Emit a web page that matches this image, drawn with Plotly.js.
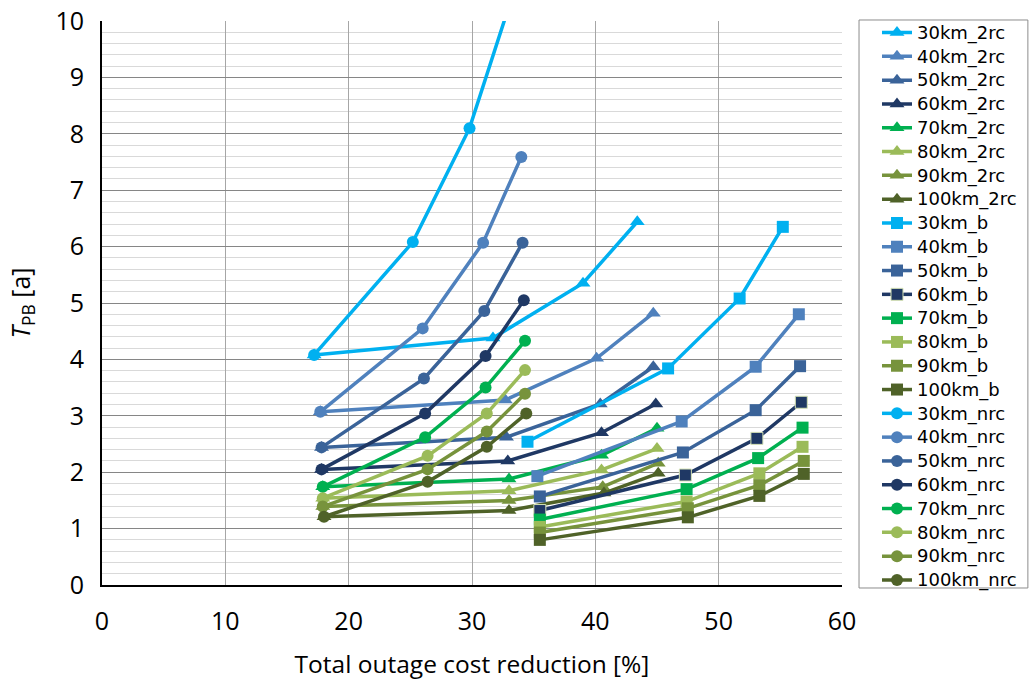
<!DOCTYPE html>
<html>
<head>
<meta charset="utf-8">
<script src="https://cdn.plot.ly/plotly-3.0.1.min.js"></script>
<style>html,body{margin:0;padding:0;background:#fff;}#chart{width:1031px;height:683px;}</style>
</head>
<body>
<div id="chart"></div>
<script>
// Distances and colours
const distances = ['30km','40km','50km','60km','70km','80km','90km','100km'];
const colors = ['#00B0F0','#4F81BD','#3A6399','#1F3864','#00B050','#9BBB59','#77933C','#4F6228'];

// 2rc series (triangles)
const x_2rc = [
  [17.2, 31.7, 39.0, 43.4],
  [17.7, 32.7, 40.1, 44.7],
  [17.8, 32.8, 40.4, 44.7],
  [17.8, 32.9, 40.5, 44.9],
  [17.9, 33.0, 40.5, 45.0],
  [17.9, 33.0, 40.5, 45.0],
  [17.9, 33.0, 40.6, 45.1],
  [18.0, 33.0, 40.7, 45.1]
];
const y_2rc = [
  [4.08, 4.38, 5.35, 6.44],
  [3.07, 3.28, 4.02, 4.82],
  [2.44, 2.62, 3.21, 3.87],
  [2.05, 2.20, 2.70, 3.21],
  [1.74, 1.88, 2.30, 2.78],
  [1.54, 1.67, 2.04, 2.42],
  [1.39, 1.50, 1.74, 2.16],
  [1.21, 1.32, 1.63, 1.98]
];

// b series (squares)
const x_b = [
  [34.5, 45.9, 51.7, 55.2],
  [35.3, 47.0, 53.0, 56.5],
  [35.5, 47.1, 53.0, 56.6],
  [35.5, 47.3, 53.1, 56.7],
  [35.5, 47.4, 53.2, 56.8],
  [35.5, 47.4, 53.3, 56.8],
  [35.5, 47.5, 53.3, 56.9],
  [35.5, 47.5, 53.3, 56.9]
];
const y_b = [
  [2.54, 3.84, 5.08, 6.35],
  [1.93, 2.90, 3.87, 4.80],
  [1.57, 2.35, 3.10, 3.88],
  [1.32, 1.95, 2.60, 3.24],
  [1.16, 1.70, 2.25, 2.79],
  [1.03, 1.48, 1.98, 2.45],
  [0.93, 1.36, 1.77, 2.20],
  [0.80, 1.20, 1.58, 1.97]
];

// nrc series (circles)
const x_nrc = [
  [17.2, 25.2, 29.8, 33.5],
  [17.7, 26.0, 30.9, 34.0],
  [17.8, 26.1, 31.0, 34.1],
  [17.8, 26.2, 31.1, 34.2],
  [17.9, 26.2, 31.1, 34.3],
  [17.9, 26.4, 31.2, 34.3],
  [17.9, 26.4, 31.2, 34.3],
  [18.0, 26.4, 31.2, 34.4]
];
const y_nrc = [
  [4.08, 6.08, 8.10, 10.6],
  [3.07, 4.55, 6.07, 7.59],
  [2.44, 3.66, 4.86, 6.07],
  [2.05, 3.04, 4.06, 5.05],
  [1.74, 2.62, 3.50, 4.33],
  [1.54, 2.29, 3.04, 3.81],
  [1.39, 2.05, 2.72, 3.39],
  [1.21, 1.83, 2.45, 3.04]
];

const xTicks = [0, 10, 20, 30, 40, 50, 60];
const yTicks = [0, 1, 2, 3, 4, 5, 6, 7, 8, 9, 10];

const traces = [];
const groups = [
  {suffix: '_2rc', xs: x_2rc, ys: y_2rc, symbol: 'triangle-up', size: 13},
  {suffix: '_b', xs: x_b, ys: y_b, symbol: 'square', size: 12},
  {suffix: '_nrc', xs: x_nrc, ys: y_nrc, symbol: 'circle', size: 12}
];
groups.forEach(g => {
  distances.forEach((d, i) => {
    const mk = {symbol: g.symbol, size: g.size, color: colors[i]};
    if (g.suffix === '_b' && d === '60km') mk.line = {color: '#d6e3b5', width: 1};
    traces.push({
      type: 'scatter', mode: 'lines+markers',
      name: '<span style="font-size:18px">' + d + g.suffix + '</span>',
      x: g.xs[i], y: g.ys[i],
      line: {color: colors[i], width: 3.5},
      marker: mk
    });
  });
});

const layout = {
  width: 1031, height: 683,
  paper_bgcolor: '#ffffff', plot_bgcolor: '#ffffff',
  margin: {l: 101.5, r: 189, t: 21, b: 98, pad: 0, autoexpand: false},
  font: {family: 'Open Sans, sans-serif', color: '#000000', size: 22},
  showlegend: true,
  legend: {
    x: 1.0473, xanchor: 'left',
    y: 1.0095, yanchor: 'top', maxheight: 640,
    borderwidth: 0, bgcolor: 'rgba(0,0,0,0)',
    font: {family: 'DejaVu Sans, sans-serif', size: 16, color: '#000'},
    tracegroupgap: 0, itemwidth: 30
  },
  shapes: [{
    type: 'rect', xref: 'paper', yref: 'paper',
    x0: 1.0230, x1: 1.2512, y0: -0.0053, y1: 1.0018,
    line: {color: '#8c8c8c', width: 1}, fillcolor: 'rgba(0,0,0,0)', layer: 'below'
  }],
  xaxis: {
    range: [0, 60], tickvals: xTicks, ticktext: xTicks.map(String),
    showgrid: true, gridcolor: '#a6a6a6', gridwidth: 1,
    zeroline: false, showline: true, linecolor: '#000000', linewidth: 2,
    ticks: 'outside', ticklen: 13, tickcolor: 'rgba(0,0,0,0)',
    tickfont: {size: 25},
    title: {text: 'Total outage cost reduction [%]', font: {size: 24.5}, standoff: 20}
  },
  yaxis: {
    range: [0, 10], tickvals: yTicks, ticktext: yTicks.map(String),
    showgrid: true, gridcolor: '#868686', gridwidth: 1,
    minor: {dtick: 0.2, showgrid: true, gridcolor: '#d9d9d9', gridwidth: 1, ticks: ''},
    zeroline: false, showline: true, linecolor: '#000000', linewidth: 2,
    ticks: 'outside', ticklen: 11, tickcolor: 'rgba(0,0,0,0)',
    tickfont: {size: 25},
    title: {text: '<i>T</i><sub>PB</sub> [a]', font: {size: 25}, standoff: 18}
  }
};

Plotly.newPlot('chart', traces, layout, {displayModeBar: false, staticPlot: true});
</script>
</body>
</html>
